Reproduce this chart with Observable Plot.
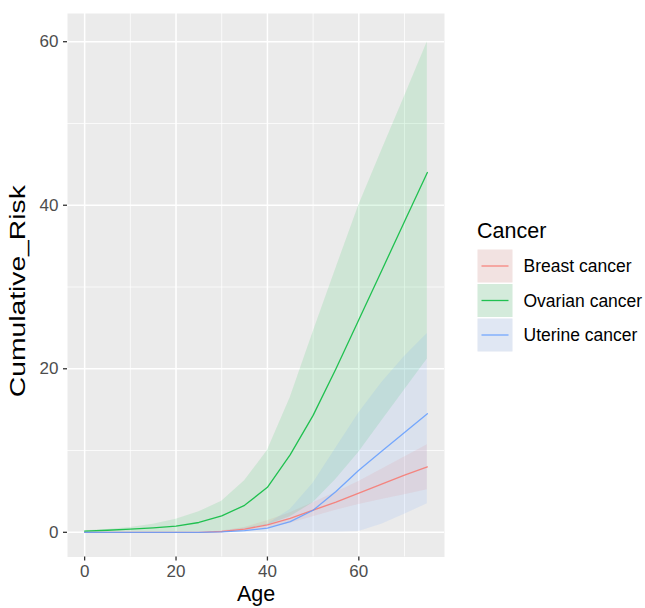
<!DOCTYPE html>
<html><head><meta charset="utf-8">
<script src="https://cdn.jsdelivr.net/npm/d3@7"></script>
<script src="https://cdn.jsdelivr.net/npm/@observablehq/plot@0.6"></script>
<style>
body{margin:0;background:#fff;}
#chart{position:relative;width:645px;height:608px;font-family:"Liberation Sans",Arial,sans-serif;}
</style></head><body><div id="chart"></div>
<script>
const ages = [0,5,10,15,20,25,30,35,40,45,50,55,60,65,70,75];
const cancers = ["Breast cancer","Ovarian cancer","Uterine cancer"];
const colors = ["#F8766D","#00BA38","#619CFF"];

const breastRisk = [0,0,0,0,0,0,0.1,0.4,0.9,1.7,2.7,3.7,4.8,5.9,7.0,8.0];
const breastLow  = [0,0,0,0,0,0,0,0.2,0.5,1.1,1.9,2.7,3.4,4.0,4.6,5.2];
const breastHigh = [0,0,0,0,0,0,0.15,0.6,1.4,2.4,3.6,4.9,6.2,7.7,9.2,10.7];

const ovarianRisk = [0.15,0.25,0.4,0.55,0.75,1.2,2.0,3.3,5.5,9.5,14.3,20.0,26.0,32.0,38.0,44.0];
const ovarianLow  = [0,0,0,0,0,0.05,0.15,0.4,0.9,1.9,3.6,6.5,9.8,13.6,17.4,21.2];
const ovarianHigh = [0.2,0.35,0.6,1.0,1.6,2.5,3.8,6.3,10.0,16.5,24.5,32.3,40.0,46.7,53.3,60.0];

const uterineRisk = [0,0,0,0,0,0,0.05,0.2,0.5,1.3,2.7,5.0,7.6,9.9,12.2,14.5];
const uterineLow  = [0,0,0,0,0,0,0,0,0,0,0,0,0.1,1.0,2.2,3.5];
const uterineHigh = [0,0,0,0,0,0,0.15,0.5,1.0,2.8,6.0,10.3,14.6,18.3,21.5,24.3];

const xMajor = [0,20,40,60];
const xMinor = [10,30,50,70];
const yMajor = [0,20,40,60];
const yMinor = [10,30,50];

const series = [
  [cancers[0], breastRisk, breastLow, breastHigh],
  [cancers[1], ovarianRisk, ovarianLow, ovarianHigh],
  [cancers[2], uterineRisk, uterineLow, uterineHigh]
];
const rows = [];
for (const [c, r, lo, hi] of series) {
  ages.forEach((a, i) => rows.push({Cancer: c, Age: a, Risk: r[i], Low: lo[i], High: hi[i]}));
}

const gridStyle = {stroke: "white", strokeOpacity: 1};
const plot = Plot.plot({
  width: 645, height: 608,
  marginLeft: 67, marginRight: 201, marginTop: 13, marginBottom: 51.5,
  style: {fontFamily: "Liberation Sans, Arial, sans-serif", background: "white", overflow: "visible"},
  x: {domain: [-3.75, 78.75]},
  y: {domain: [-3.02, 63.45]},
  color: {domain: cancers, range: colors},
  marks: [
    Plot.frame({fill: "#EBEBEB", stroke: "none"}),
    Plot.gridX(xMinor, {...gridStyle, strokeWidth: 0.75}),
    Plot.gridY(yMinor, {...gridStyle, strokeWidth: 0.75}),
    Plot.gridX(xMajor, {...gridStyle, strokeWidth: 1.5}),
    Plot.gridY(yMajor, {...gridStyle, strokeWidth: 1.5}),
    Plot.areaY(rows, {x: "Age", y1: "Low", y2: "High", z: "Cancer", fill: "Cancer", fillOpacity: 0.12}),
    Plot.lineY(rows, {x: "Age", y: "Risk", z: "Cancer", stroke: "Cancer", strokeWidth: 1.3, strokeOpacity: 0.85}),
    Plot.axisX(xMajor, {tickSize: 4, tickPadding: 4, fontSize: 17, label: null, stroke: "#333", fill: "#4D4D4D", strokeWidth: 1.3}),
    Plot.axisY(yMajor, {tickSize: 4, tickPadding: 5, fontSize: 17, label: null, stroke: "#333", fill: "#4D4D4D", strokeWidth: 1.3}),
    Plot.text(["Age"], {frameAnchor: "bottom", dy: 37.5, lineAnchor: "middle", textAnchor: "middle", fontSize: 21.5, fill: "black"}),
    Plot.text(["Cumulative_Risk"], {frameAnchor: "left", dx: -49, dy: 6, rotate: -90, textAnchor: "middle", lineAnchor: "middle", fontSize: 21.5, fill: "black"})
  ]
});
document.getElementById("chart").appendChild(plot);

// stretch the y-axis title to the reference's length
d3.select(plot).selectAll("text").filter(function() { return this.textContent === "Cumulative_Risk"; })
  .attr("textLength", 212).attr("lengthAdjust", "spacingAndGlyphs");

// Legend
const color = plot.scale("color");
const svg = d3.select(plot);
const lg = svg.append("g").attr("font-family", "Liberation Sans, Arial, sans-serif").attr("text-anchor", "start");
lg.append("text").attr("x", 477).attr("y", 237.5).attr("font-size", 21.5).attr("fill", "black").attr("text-anchor", "start").text("Cancer");
const keyTop = 249.5, keyH = 33, keyGap = 34.5;
cancers.forEach((c, i) => {
  const y0 = keyTop + i * keyGap;
  lg.append("rect").attr("x", 477.5).attr("y", y0).attr("width", 35).attr("height", keyH).attr("fill", "#F2F2F2");
  lg.append("rect").attr("x", 477.5).attr("y", y0).attr("width", 35).attr("height", keyH).attr("fill", color.apply(c)).attr("fill-opacity", 0.12);
  lg.append("line").attr("x1", 481.5).attr("x2", 508.5).attr("y1", y0 + keyH / 2).attr("y2", y0 + keyH / 2)
    .attr("stroke", color.apply(c)).attr("stroke-width", 1.3).attr("stroke-opacity", 0.85);
  lg.append("text").attr("x", 523.5).attr("y", y0 + keyH / 2).attr("dy", "0.35em").attr("font-size", 17.5)
    .attr("fill", "black").attr("text-anchor", "start").text(c);
});
</script>
</body></html>
